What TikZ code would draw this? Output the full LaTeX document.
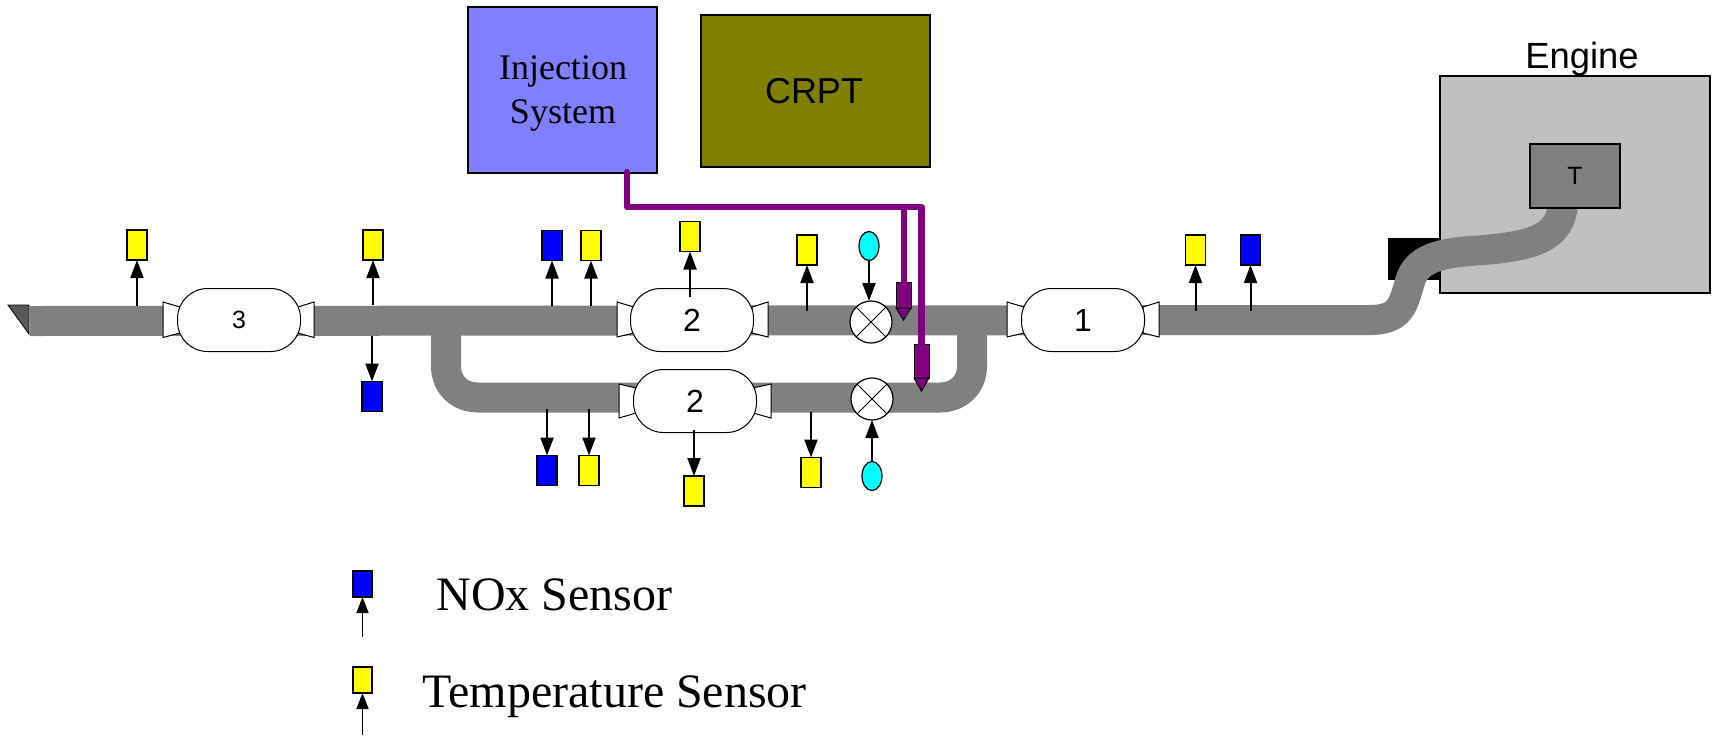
\documentclass[tikz,border=0pt]{standalone}
\usepackage{fontspec}
\setmainfont{Liberation Sans}
\newfontfamily\serifface{Liberation Serif}
\usetikzlibrary{arrows.meta,shapes.geometric}
\definecolor{pipegray}{HTML}{808080}
\definecolor{enggray}{HTML}{C0C0C0}
\definecolor{injblue}{HTML}{8080FF}
\definecolor{crptolive}{HTML}{808000}
\definecolor{injpurple}{HTML}{800080}
\definecolor{sensblue}{HTML}{0000FF}
\definecolor{sensyellow}{HTML}{FFFF00}
\definecolor{ureacyan}{HTML}{00FFFF}
\tikzset{
  pipe/.style={draw=pipegray,line width=15pt,line join=round},
  purpleline/.style={draw=injpurple,line width=3.2pt,line join=round,line cap=round},
  yellowsensor/.style={draw=black,line width=.6pt,fill=sensyellow,minimum width=10pt,minimum height=15pt,inner sep=0pt,outer sep=0pt},
  bluesensor/.style={yellowsensor,fill=sensblue},
  cyanprobe/.style={draw=black,line width=.6pt,fill=ureacyan,ellipse,minimum width=10pt,minimum height=14.5pt,inner sep=0pt,outer sep=0pt},
  catalyst/.style={draw=black,line width=.5pt,fill=white,rounded corners=15pt,inner sep=0pt,outer sep=0pt,minimum height=31.5pt,minimum width=61.5pt,font=\fontsize{16}{16}\selectfont},
  horn/.style={draw=black,line width=.5pt,fill=white},
  valve/.style={draw=black,line width=.6pt,fill=white,circle,minimum size=21pt,inner sep=0pt,outer sep=0pt},
  sensarrow/.style={draw=black,line width=1pt,-{Triangle[length=9pt,width=6.5pt]}},
  legendarrow/.style={draw=black,line width=.8pt,-{Triangle[length=8pt,width=6pt]}},
  injector/.style={draw=black,line width=.5pt,fill=injpurple,minimum width=7.5pt,inner sep=0pt,outer sep=0pt},
  bigbox/.style={draw=black,line width=.6pt,inner sep=0pt,outer sep=0pt},
}
\begin{document}
\begin{tikzpicture}[x=0.5pt,y=-0.5pt]
\useasboundingbox (0,0) rectangle (1729,735);
% boxes at the top and engine
\node[bigbox,fill=injblue,minimum width=94.5pt,minimum height=83pt,anchor=north west] (inj) at (468,7) {};
\node[font=\fontsize{18}{22}\selectfont\serifface,anchor=base,inner sep=0pt] (injtext1) at (563,79) {Injection};
\node[font=\fontsize{18}{22}\selectfont\serifface,anchor=base,inner sep=0pt] (injtext2) at (563,123) {System};
\node[bigbox,fill=crptolive,minimum width=114.5pt,minimum height=76pt,anchor=north west] (crpt) at (701,15) {};
\node[font=\fontsize{18}{18}\selectfont,anchor=base,inner sep=0pt] (crpttext) at (814,103) {CRPT};
\node[fill=black,minimum width=26pt,minimum height=21pt,inner sep=0pt,outer sep=0pt,anchor=north west] (flange) at (1388,238) {};
\node[bigbox,fill=enggray,minimum width=135pt,minimum height=108.5pt,anchor=north west] (engine) at (1440,76) {};
\node[font=\fontsize{18.2}{18}\selectfont,anchor=base,inner sep=0pt] (enginelabel) at (1582,68) {Engine};
% pipes
\draw[pipe] (30,321) -- (1370,320) .. controls (1400,320) and (1403,305) .. (1409,285) .. controls (1414,262) and (1432,254) .. (1470,251) .. controls (1530,247) and (1563,240) .. (1563,200);
\draw[pipe] (446,321) -- (446,366) .. controls (446,385) and (460,397.5) .. (478,397.5) -- (940,397.5) .. controls (958,397.5) and (972,385) .. (972,366) -- (972,321);
\node[bigbox,fill=pipegray,minimum width=45pt,minimum height=32pt,anchor=north west,font=\fontsize{12.5}{12.5}\selectfont] (turbo) at (1530,144) {T};
% tail wedge
\draw[draw=black,line width=.4pt,fill=black!65] (8,305) -- (29,305) -- (29,334) -- cycle;
% horns
\draw[horn] (163,302) -- (180,307) -- (180,333) -- (163,337.5) -- cycle;
\draw[horn] (314,302) -- (298,307) -- (298,333) -- (314,337.5) -- cycle;
\draw[horn] (617,302) -- (634,307) -- (634,333) -- (617,337) -- cycle;
\draw[horn] (768,302) -- (752,307) -- (752,333) -- (768,337) -- cycle;
\draw[horn] (619,384) -- (636,388) -- (636,413) -- (619,418) -- cycle;
\draw[horn] (771,384) -- (753,388) -- (753,413) -- (771,418) -- cycle;
\draw[horn] (1007,302) -- (1024,307) -- (1024,333) -- (1007,337) -- cycle;
\draw[horn] (1159,302) -- (1143,307) -- (1143,333) -- (1159,337) -- cycle;
% catalysts
\node[catalyst,font=\fontsize{12.5}{12.5}\selectfont] (cat3) at (239,320) {3};
\node[catalyst] (cat2a) at (692,320) {2};
\node[catalyst] (cat2b) at (695,401) {2};
\node[catalyst] (cat1) at (1083,320) {1};
% valves
\node[valve] (v1) at (871,322) {};
\node[valve] (v2) at (872,399) {};
\draw[line width=.5pt] (v1.45) -- (v1.225) (v1.135) -- (v1.315) (v2.45) -- (v2.225) (v2.135) -- (v2.315);
% sensors
\node[yellowsensor] (s1) at (137,245) {};
\node[yellowsensor] (s2) at (373,245) {};
\node[bluesensor] (s3) at (372,396.5) {};
\node[bluesensor] (s4) at (552,245.5) {};
\node[yellowsensor] (s5) at (591,245.5) {};
\node[yellowsensor] (s6) at (690,236.5) {};
\node[bluesensor] (s7) at (547,470.5) {};
\node[yellowsensor] (s8) at (589,470.5) {};
\node[yellowsensor] (s9) at (694,491) {};
\node[yellowsensor] (s10) at (807,250) {};
\node[yellowsensor] (s11) at (811,472.5) {};
\node[yellowsensor] (s12) at (1195.5,250) {};
\node[bluesensor] (s13) at (1250.5,250) {};
\node[cyanprobe] (p1) at (869,246) {};
\node[cyanprobe] (p2) at (872,476) {};
% tap points
\coordinate (t1) at (137,306);
\coordinate (t2) at (373,305);
\coordinate (t3) at (372,336);
\coordinate (t4) at (552,306);
\coordinate (t5) at (591,306);
\coordinate (t6) at (690,297);
\coordinate (t7) at (547,409);
\coordinate (t8) at (589,409);
\coordinate (t9) at (694,430);
\coordinate (t10) at (807,311);
\coordinate (t11) at (811,412);
\coordinate (t12) at (1195.5,311);
\coordinate (t13) at (1250.5,311);
\foreach \i in {1,...,13} {\draw[sensarrow] (t\i) -- (s\i);}
\draw[sensarrow] (p1) -- (p1 |- v1.north);
\draw[sensarrow] (p2) -- (p2 |- v2.south);
% injection lines
\node[injector,minimum height=13pt,anchor=north] (n1) at (903.5,282) {};
\node[injector,minimum height=17pt,anchor=north] (n2) at (921.5,344) {};
\coordinate (feed) at (627,172);
\coordinate (corner) at (921.5,207);
\coordinate (branch) at (903.5,207);
\draw[purpleline] (feed) |- (corner) -- (n2.north);
\draw[purpleline,line width=3pt] (branch) -- (n1.north);
\draw[draw=black,line width=.5pt,fill=injpurple] (n1.south west) -- (n1.south east) -- (903.5,320) -- cycle;
\draw[draw=black,line width=.5pt,fill=injpurple] (n2.south west) -- (n2.south east) -- (921.5,391) -- cycle;
% legend
\node[bluesensor,minimum width=9.5pt,minimum height=13pt] (lb) at (362.5,584) {};
\node[yellowsensor,minimum width=9.5pt,minimum height=13pt] (ly) at (362.5,680) {};
\coordinate (lbt) at (362.5,637);
\coordinate (lyt) at (362.5,735);
\draw[legendarrow] (lbt) -- (lb);
\draw[legendarrow] (lyt) -- (ly);
\node[font=\fontsize{24}{24}\selectfont\serifface,anchor=base,inner sep=0pt] (lbtext) at (554.5,610) {NOx Sensor};
\node[font=\fontsize{24}{24}\selectfont\serifface,anchor=base west,inner sep=0pt] (lytext) at (422,707) {Temperature Sensor};
\end{tikzpicture}
\end{document}
